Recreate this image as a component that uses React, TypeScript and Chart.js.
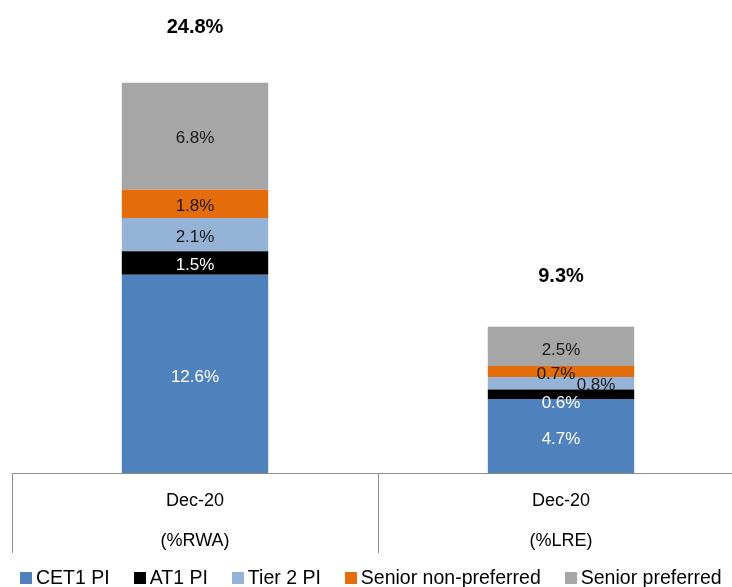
import React, { useEffect, useRef } from "react";
import { Chart, registerables } from "chart.js";

Chart.register(...registerables);

const categories: string[][] = [["Dec-20", "(%RWA)"], ["Dec-20", "(%LRE)"]];
const seriesNames = ["CET1 PI", "AT1 PI", "Tier 2 PI", "Senior non-preferred", "Senior preferred"];
const cet1 = [12.6, 4.7];
const at1 = [1.5, 0.6];
const tier2 = [2.1, 0.8];
const seniorNonPreferred = [1.8, 0.7];
const seniorPreferred = [6.8, 2.5];
const totals = [24.8, 9.3];

const seriesValues = [cet1, at1, tier2, seniorNonPreferred, seniorPreferred];
const seriesColors = ["#4F81BD", "#000000", "#95B3D7", "#E46C0A", "#A6A6A6"];
const labelColors = ["#FFFFFF", "#FFFFFF", "#1A1A1A", "#1A1A1A", "#1A1A1A"];
// per dataset, per category pixel nudges of the value labels [dx, dy]
const labelNudges: number[][][] = [
  [[0, 3], [0, 3]],
  [[0, 2], [0, 9]],
  [[0, 3], [35, 2]],
  [[0, 2], [-5, 3]],
  [[0, 2], [0, 4]],
];
const totalLift = [55, 50];

const FONT = '"Liberation Sans", Arial, sans-serif';

const labelPlugin = {
  id: "segLabels",
  afterDatasetsDraw(chart: any) {
    const ctx = chart.ctx;
    ctx.save();
    ctx.textAlign = "center";
    ctx.textBaseline = "middle";
    ctx.font = `17px ${FONT}`;
    chart.data.datasets.forEach((ds: any, di: number) => {
      const meta = chart.getDatasetMeta(di);
      meta.data.forEach((el: any, i: number) => {
        const v = ds.data[i] as number;
        const p = el.getProps(["x", "y", "base"], true);
        const n = labelNudges[di]?.[i] ?? [0, 0];
        ctx.fillStyle = labelColors[di];
        ctx.fillText(v.toFixed(1) + "%", p.x + n[0], (p.y + p.base) / 2 + n[1]);
      });
    });
    const xs = chart.scales.x;
    const ys = chart.scales.y;
    ctx.font = `bold 20px ${FONT}`;
    ctx.fillStyle = "#000000";
    totals.forEach((t, i) => {
      ctx.fillText(t.toFixed(1) + "%", xs.getPixelForValue(i), ys.getPixelForValue(t) - totalLift[i]);
    });
    ctx.restore();
  },
};

export default function App() {
  const ref = useRef<HTMLCanvasElement | null>(null);

  useEffect(() => {
    if (!ref.current) return;
    const chart = new Chart(ref.current, {
      type: "bar",
      data: {
        labels: categories as any,
        datasets: seriesNames.map((name, i) => ({
          label: name,
          data: seriesValues[i],
          backgroundColor: seriesColors[i],
          borderWidth: 0,
          categoryPercentage: 1,
          barPercentage: 0.4,
        })),
      },
      options: {
        responsive: false,
        animation: false,
        devicePixelRatio: 1,
        layout: { padding: { left: 12, right: 0, top: 1, bottom: 0 } },
        plugins: {
          legend: { display: false },
          tooltip: { enabled: false },
        },
        scales: {
          x: {
            stacked: true,
            grid: {
              offset: true,
              drawOnChartArea: false,
              drawTicks: true,
              tickLength: 80,
              color: "#8C8C8C",
              lineWidth: 1,
            },
            border: { display: true, color: "#8C8C8C", width: 1 },
            ticks: {
              color: "#000000",
              font: { family: FONT, size: 18, lineHeight: "40px" as any },
              padding: -72,
              maxRotation: 0,
            },
            afterFit: (scale: any) => {
              scale.height = 114;
            },
          },
          y: {
            stacked: true,
            display: false,
            min: 0,
            max: 30,
          },
        },
      },
      plugins: [labelPlugin],
    });
    return () => chart.destroy();
  }, []);

  return (
    <div
      style={{
        position: "fixed",
        left: 0,
        top: 0,
        width: 732,
        height: 587,
        overflow: "hidden",
        background: "#FFFFFF",
      }}
    >
      <canvas ref={ref} width={744} height={587} style={{ width: 744, height: 587, display: "block" }} />
      <div
        style={{
          position: "absolute",
          left: 20,
          top: 567,
          height: 20,
          display: "flex",
          alignItems: "center",
          whiteSpace: "nowrap",
          fontFamily: FONT,
          fontSize: 19.5,
          lineHeight: "20px",
          color: "#000000",
        }}
      >
        {seriesNames.map((name, i) => (
          <div key={name} style={{ display: "flex", alignItems: "center", marginRight: 24 }}>
            <span
              style={{
                display: "inline-block",
                width: 12,
                height: 12,
                background: seriesColors[i],
                marginRight: 4,
                marginTop: 2,
              }}
            />
            <span>{name}</span>
          </div>
        ))}
      </div>
    </div>
  );
}
